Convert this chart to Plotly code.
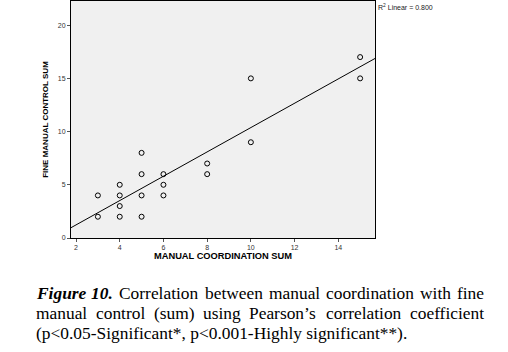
import glob
import struct
import numpy as np
import plotly.graph_objects as go

manual_coordination = [3, 3, 4, 4, 4, 4, 5, 5, 5, 5, 6, 6, 6, 8, 8, 10, 10, 15, 15]
fine_manual_control = [4, 2, 5, 4, 3, 2, 8, 6, 4, 2, 6, 5, 4, 7, 6, 15, 9, 17, 15]
x_ticks = [2, 4, 6, 8, 10, 12, 14]
y_ticks = [0, 5, 10, 15, 20]
r2_label = "R<sup>2</sup> Linear = 0.800"
caption_label = "Figure 10."
caption_lines = [
    "Correlation between manual coordination with fine",
    "manual control (sum) using Pearson’s correlation coefficient",
    "(p<0.05-Significant*, p<0.001-Highly significant**).",
]

W, H = 508, 352
L, R, T, B = 71, 133, 1, 114
x_range = [1.77, 15.68]
y_range = [0, 22.27]
CAP_SIZE = 17.4
CAP_FONT = "Liberation Serif, Times New Roman, serif"


def load_width_fn(name, fallback_ratio):
    paths = glob.glob("/usr/share/fonts/**/" + name, recursive=True)
    if not paths:
        return lambda s, size: len(s) * size * fallback_ratio
    try:
        data = open(paths[0], "rb").read()
        num = struct.unpack(">H", data[4:6])[0]
        tables = {}
        for i in range(num):
            tag, _, off, ln = struct.unpack(">4sIII", data[12 + 16 * i:28 + 16 * i])
            tables[tag.decode("latin1")] = off
        upm = struct.unpack(">H", data[tables["head"] + 18:tables["head"] + 20])[0]
        nhm = struct.unpack(">H", data[tables["hhea"] + 34:tables["hhea"] + 36])[0]
        hm = tables["hmtx"]
        adv = [struct.unpack(">H", data[hm + 4 * i:hm + 4 * i + 2])[0] for i in range(nhm)]
        cm = tables["cmap"]
        n = struct.unpack(">H", data[cm + 2:cm + 4])[0]
        sub = None
        for i in range(n):
            pid, eid, off = struct.unpack(">HHI", data[cm + 4 + 8 * i:cm + 12 + 8 * i])
            fmt = struct.unpack(">H", data[cm + off:cm + off + 2])[0]
            if fmt == 4 and pid == 3 and eid in (0, 1):
                sub = cm + off
        segx2 = struct.unpack(">H", data[sub + 6:sub + 8])[0]
        seg = segx2 // 2
        ends = struct.unpack(">%dH" % seg, data[sub + 14:sub + 14 + segx2])
        so = sub + 16 + segx2
        starts = struct.unpack(">%dH" % seg, data[so:so + segx2])
        do = so + segx2
        deltas = struct.unpack(">%dh" % seg, data[do:do + segx2])
        ro = do + segx2
        ros = struct.unpack(">%dH" % seg, data[ro:ro + segx2])

        def gid(c):
            for i in range(seg):
                if starts[i] <= c <= ends[i]:
                    if ros[i] == 0:
                        return (c + deltas[i]) & 0xFFFF
                    addr = ro + 2 * i + ros[i] + 2 * (c - starts[i])
                    g = struct.unpack(">H", data[addr:addr + 2])[0]
                    return (g + deltas[i]) & 0xFFFF if g else 0
            return 0

        def width(s, size):
            return sum(adv[min(gid(ord(ch)), nhm - 1)] for ch in s) * size / upm
        return width
    except Exception:
        return lambda s, size: len(s) * size * fallback_ratio


w_reg = load_width_fn("LiberationSerif-Regular.ttf", 0.45)
w_bi = load_width_fn("LiberationSerif-BoldItalic.ttf", 0.5)

slope, intercept = np.polyfit(manual_coordination, fine_manual_control, 1)
line_x = np.array(x_range)
line_y = slope * line_x + intercept

fig = go.Figure()
fig.add_trace(go.Scatter(
    x=line_x, y=line_y, mode="lines",
    line=dict(color="black", width=1), hoverinfo="skip", showlegend=False,
))
fig.add_trace(go.Scatter(
    x=manual_coordination, y=fine_manual_control, mode="markers",
    marker=dict(symbol="circle-open", size=5, color="black", line=dict(width=1)),
    showlegend=False,
))

fig.update_layout(
    width=W, height=H,
    margin=dict(l=L, r=R, t=T, b=B),
    paper_bgcolor="white", plot_bgcolor="#f0f0f0",
    font=dict(family="Arial, Liberation Sans, sans-serif", color="black"),
)
fig.update_xaxes(
    range=x_range, tickvals=x_ticks, showgrid=False, zeroline=False,
    showline=True, linecolor="black", linewidth=1, mirror=True,
    ticks="outside", ticklen=3, tickcolor="#555", tickfont=dict(size=7, color="#333"),
    title=dict(text="<b>MANUAL COORDINATION SUM</b>", font=dict(size=9.3), standoff=2),
)
fig.update_yaxes(
    range=y_range, tickvals=y_ticks, showgrid=False, zeroline=False,
    showline=True, linecolor="black", linewidth=1, mirror=True,
    ticks="outside", ticklen=3, tickcolor="#555", tickfont=dict(size=7, color="#333"),
    title=dict(text="<b>FINE MANUAL CONTROL SUM</b>", font=dict(size=8), standoff=8),
)

fig.add_annotation(
    x=1, y=1, xref="paper", yref="paper", xanchor="left", yanchor="top",
    text=r2_label, showarrow=False, font=dict(size=7, color="#222"), xshift=1,
)


def px_x(px):
    return (px - L) / (W - L - R)


def px_y(py):
    return (H - B - py) / (H - T - B)


def add_word(text, px, py):
    fig.add_annotation(
        x=px_x(px), y=px_y(py), xref="paper", yref="paper",
        text=text, showarrow=False, xanchor="left", yanchor="middle",
        borderpad=0, font=dict(family=CAP_FONT, size=CAP_SIZE, color="black"),
    )


cap_left, cap_right = 35, 483
line_y0, line_gap = 293, 20

for i, line in enumerate(caption_lines):
    py = line_y0 + i * line_gap
    words = [(w, False) for w in line.split(" ")]
    if i == 0:
        words = [(w, True) for w in caption_label.split(" ")] + words
    if i == len(caption_lines) - 1:
        add_word(line, cap_left, py)
        continue
    widths = [(w_bi if bi else w_reg)(w, CAP_SIZE) for w, bi in words]
    gap = (cap_right - cap_left - sum(widths)) / (len(words) - 1)
    pos = cap_left
    for (w, bi), wd in zip(words, widths):
        add_word("<b><i>%s</i></b>" % w if bi else w, pos, py)
        pos += wd + gap

fig.write_html("out.html")
